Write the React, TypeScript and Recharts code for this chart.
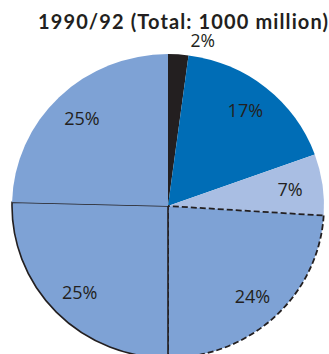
import React from 'react';
import { PieChart, Pie, Cell } from 'recharts';

const TITLE = '1990/92 (Total: 1000 million)';
const categories = ['A', 'B', 'C', 'D', 'E', 'F'];
const values = [21, 174, 65, 240, 254, 246];
const colors = ['#231F20', '#006DB6', '#A9BEE3', '#7EA2D5', '#7EA2D5', '#7EA2D5'];
const strokes = ['none', 'none', 'none', '#231F20', '#231F20', 'none'];
const dashes = ['', '', '', '6 3', '', ''];
const strokeWidths = [0, 0, 0, 1.8, 1.6, 0];

const data = categories.map((c, i) => ({ name: c, value: values[i] }));

const RAD = Math.PI / 180;
const TEXT = '#231F20';

const renderLabel = (p: any) => {
  const { cx, cy, midAngle, outerRadius, percent, endAngle } = p;
  const txt = `${Math.round(percent * 100)}%`;
  if (percent < 0.05) {
    const x = cx + outerRadius * Math.cos(endAngle * RAD) + 2;
    const y = cy - outerRadius - 3;
    return (
      <text x={x} y={y} textAnchor="start" fill={TEXT} fontSize={17.5} fontFamily="Open Sans, sans-serif">
        {txt}
      </text>
    );
  }
  const r = outerRadius * 0.79;
  const x = cx + r * Math.cos(-midAngle * RAD);
  const y = cy + r * Math.sin(-midAngle * RAD);
  return (
    <text x={x} y={y} textAnchor="middle" dominantBaseline="central" fill={TEXT} fontSize={18} fontFamily="Open Sans, sans-serif">
      {txt}
    </text>
  );
};

export default function App() {
  return (
    <div style={{ position: 'absolute', left: 0, top: 0, width: 329, height: 354, overflow: 'hidden', background: '#fff' }}>
      <style>{`.recharts-pie-sector{transform:scaleY(0.974);transform-origin:168px 206px}`}</style>
      <PieChart width={329} height={354} margin={{ top: 0, right: 0, bottom: 0, left: 0 }}>
        <Pie
          data={data}
          dataKey="value"
          nameKey="name"
          cx={168}
          cy={206}
          outerRadius={156}
          startAngle={90}
          endAngle={-270}
          isAnimationActive={false}
          label={renderLabel}
          labelLine={false}
        >
          {data.map((d, i) => (
            <Cell
              key={d.name}
              fill={colors[i]}
              stroke={strokes[i]}
              strokeWidth={strokeWidths[i]}
              strokeDasharray={dashes[i] || undefined}
            />
          ))}
        </Pie>
      </PieChart>
      <svg width={329} height={34} style={{ position: 'absolute', left: 0, top: 0 }}>
        <text x={38} y={28.5} textLength={290} lengthAdjust="spacing" fontSize={20} fontWeight="bold" fontFamily="Lato, sans-serif" fill={TEXT}>
          {TITLE}
        </text>
      </svg>
    </div>
  );
}
